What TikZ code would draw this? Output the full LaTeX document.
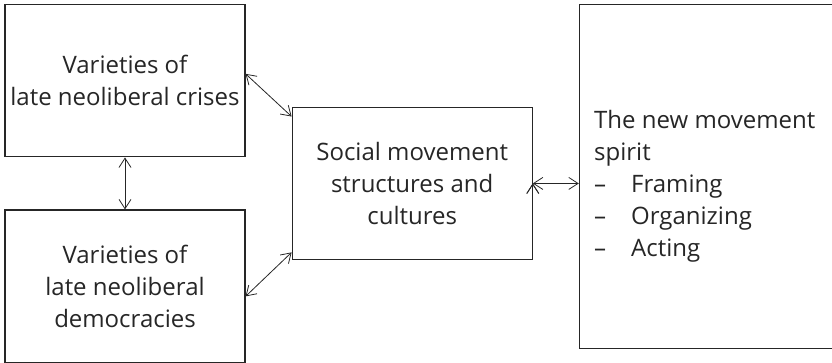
\documentclass[tikz,border=0pt]{standalone}
\usepackage{fontspec}
\setmainfont{Open Sans}
\usetikzlibrary{positioning,arrows.meta,calc}

\begin{document}
\begin{tikzpicture}[-,
					>={Straight Barb[length=7pt,width=9pt]},
					x=0.75pt, y=-0.75pt,
					font=\fontsize{18}{24}\selectfont,
					text=black!85,
					main node/.style={rectangle,draw=black!85,line width=0.9pt,
						align=center,minimum width=180pt,minimum height=114.5pt},
					link/.style={<->,draw=black!85,line width=0.6pt}]

  \useasboundingbox (0,0) rectangle (832,362);

  \node[main node] (A) at (125,80.5) {Varieties of\\late neoliberal crises};
  \node[main node] (B) [below=39pt of A] {Varieties of\\late neoliberal\\democracies};
  \coordinate (AB) at ($(A.east)!0.5!(B.east)$);
  \node[main node] (C) [right=34.5pt of AB] {Social movement\\structures and\\cultures};
  \node[main node, minimum width=189.75pt, minimum height=258pt]
    (D) [right=34.5pt of C, yshift=5.25pt] {};
  \node[align=left, anchor=west] (spirit) at ([xshift=8pt, yshift=-7pt]D.west)
    {The new movement\\spirit\\
     \makebox[27.75pt][l]{--}Framing\\
     \makebox[27.75pt][l]{--}Organizing\\
     \makebox[27.75pt][l]{--}Acting};

  \path[link]
    (A) edge (B)
    ([yshift=5pt]A.east) edge ([yshift=-7.5pt]C.north west)
    ([yshift=-7.5pt]B.east) edge ([yshift=6pt]C.south west)
    (C.east) edge (C.east -| D.west);
\end{tikzpicture}
\end{document}
